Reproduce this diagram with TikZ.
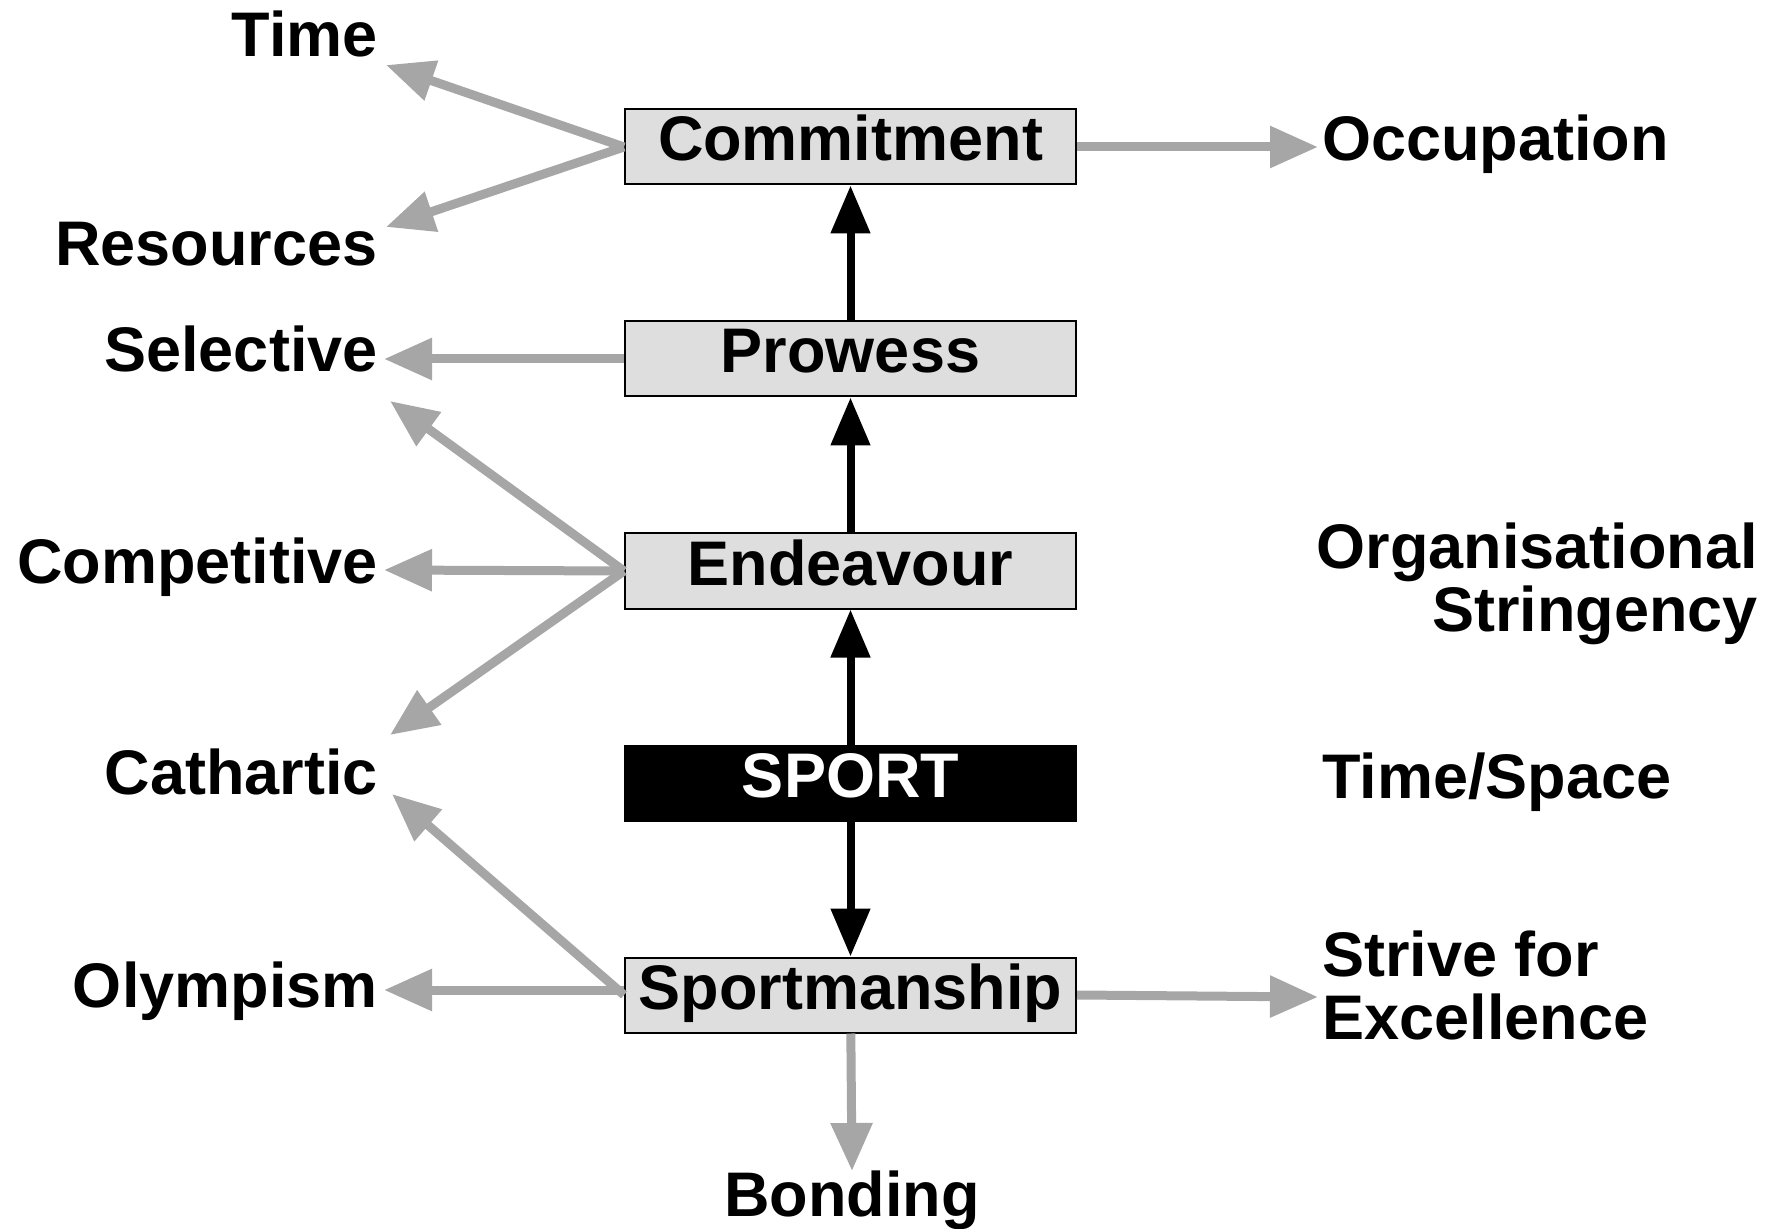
\documentclass[tikz,border=0pt]{standalone}
\usepackage{fontspec}
\setmainfont{Liberation Sans}
\usepackage{tikz}
\usetikzlibrary{arrows.meta,positioning}
\definecolor{arrgray}{HTML}{A6A6A6}
\definecolor{boxgray}{HTML}{DEDEDE}
\tikzstyle{bx}=[draw=black, fill=boxgray, line width=1pt, minimum width=225.5pt, minimum height=37.5pt, inner sep=0pt, text height=22pt, text depth=8pt, font=\bfseries\fontsize{31.5}{31.5}\selectfont]
\tikzstyle{sportbx}=[bx, fill=black, text=white]
\tikzstyle{lbl}=[inner sep=0pt, font=\bfseries\fontsize{31.5}{31.5}\selectfont]
\tikzstyle{blackarr}=[color=black, line width=4pt, -{Triangle[length=24pt,width=19pt]}]
\tikzstyle{grayarr}=[color=arrgray, line width=4.5pt, -{Triangle[length=24pt,width=20pt]}]

\begin{document}
\begin{tikzpicture}
[x=0.5pt, y=-0.5pt, node distance=106pt]
 \useasboundingbox (0,0) rectangle (1782,1229);
 % central column
 \node[bx] (commit) at (850.5,147) {Commitment};
 \node[bx] (prowess) [below of=commit] {Prowess};
 \node[bx] (endeav) [below of=prowess] {Endeavour};
 \node[sportbx] (sport) [below of=endeav] {SPORT};
 \node[bx] (sportm) [below of=sport] {Sportmanship};
 % labels
 \node[lbl, anchor=base east] (time) at (378,57) {Time};
 \node[lbl, anchor=base east] (resources) at (378,266) {Resources};
 \node[lbl, anchor=base east] (selective) at (378,372) {Selective};
 \node[lbl, anchor=base east] (competitive) at (378,583) {Competitive};
 \node[lbl, anchor=base east] (cathartic) at (378,794) {Cathartic};
 \node[lbl, anchor=base east] (olympism) at (378,1007) {Olympism};
 \node[lbl, anchor=base west] (occupation) at (1322,161) {Occupation};
 \node[lbl, anchor=north east, align=right] (orgstr) at (1758,522) {Organisational\\Stringency};
 \node[lbl, anchor=base west] (timespace) at (1322,798) {Time/Space};
 \node[lbl, anchor=north west, align=left] (strive) at (1322,930) {Strive for\\Excellence};
 \node[lbl, anchor=base] (bonding) at (852,1216) {Bonding};
 % arrow ends
 \coordinate (timeend) at (386,65);
 \coordinate (resend) at (386,227);
 \coordinate (selend) at (384,359);
 \coordinate (selend2) at (390,401);
 \coordinate (compend) at (384,570);
 \coordinate (cathend) at (390,735);
 \coordinate (cathend2) at (392,794);
 \coordinate (olyend) at (384,990);
 \coordinate (occend) at (1318,147);
 \coordinate (excend) at (1318,997);
 \coordinate (bondend) at (852,1171);
 \path[blackarr]
   (sport) edge node {} (endeav)
   (endeav) edge node {} (prowess)
   (prowess) edge node {} (commit)
   (sport) edge node {} (sportm);
 \path[grayarr]
   (commit.west) edge node {} (timeend)
   (commit.west) edge node {} (resend)
   (commit.east) edge node {} (occend)
   (prowess.west) edge node {} (selend)
   (endeav.west) edge node {} (selend2)
   (endeav.west) edge node {} (compend)
   (endeav.west) edge node {} (cathend)
   (sportm.west) edge node {} (cathend2)
   ([yshift=2.5pt]sportm.west) edge node {} (olyend)
   (sportm.east) edge node {} (excend)
   (sportm) edge node {} (bondend);
\end{tikzpicture}
\end{document}
